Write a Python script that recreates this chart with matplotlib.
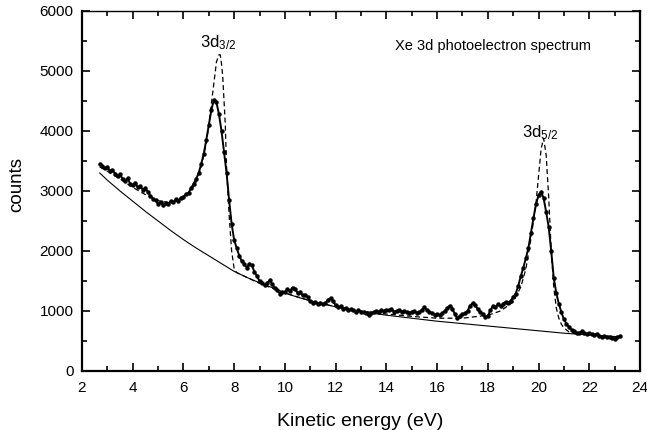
import numpy as np
import matplotlib
matplotlib.use("Agg")
import matplotlib.pyplot as plt
from matplotlib.ticker import MultipleLocator

plt.rcParams['font.family'] = ['Liberation Sans', 'DejaVu Sans']
plt.rcParams['mathtext.fontset'] = 'custom'
plt.rcParams['mathtext.rm'] = 'Liberation Sans'
plt.rcParams['mathtext.it'] = 'Liberation Sans'

# measured spectrum (kinetic energy in eV, counts)
energy = np.round(np.arange(2.7, 23.25, 0.1), 2)
counts = [
    3450, 3420, 3380, 3400, 3330, 3350, 3290, 3250, 3280, 3200,   # 2.7-3.6
    3170, 3210, 3120, 3100, 3140, 3060, 3080, 3020, 3050, 2980,   # 3.7-4.6
    2920, 2870, 2850, 2780, 2820, 2760, 2800, 2790, 2830, 2810,   # 4.7-5.6
    2860, 2840, 2890, 2900, 2950, 2970, 3050, 3120, 3200, 3300,   # 5.7-6.6
    3450, 3620, 3850, 4100, 4350, 4520, 4480, 4280, 4000, 3650,   # 6.7-7.6
    3300, 2850, 2450, 2180, 2050, 1920, 1830, 1780, 1720, 1790,   # 7.7-8.6
    1760, 1650, 1580, 1500, 1460, 1430, 1470, 1510, 1450, 1380,   # 8.7-9.6
    1350, 1290, 1310, 1320, 1360, 1340, 1390, 1370, 1300, 1310,   # 9.7-10.6
    1260, 1270, 1230, 1160, 1130, 1150, 1120, 1140, 1110, 1130,   # 10.7-11.6
    1190, 1210, 1160, 1100, 1060, 1080, 1030, 1050, 1020, 1030,   # 11.7-12.6
    1010, 990, 1010, 990, 980, 960, 930, 970, 980, 1000,          # 12.7-13.6
    990, 1010, 1000, 1020, 1010, 1030, 990, 1000, 1020, 990,      # 13.7-14.6
    1000, 980, 960, 990, 1000, 970, 980, 1020, 1060, 1010,        # 14.7-15.6
    990, 960, 940, 950, 930, 960, 1000, 1050, 1090, 1040,         # 15.7-16.6
    950, 880, 920, 950, 960, 1000, 1090, 1130, 1100, 1030,        # 16.7-17.6
    990, 950, 900, 920, 1010, 1080, 1060, 1110, 1080, 1120,       # 17.7-18.6
    1150, 1140, 1170, 1230, 1290, 1420, 1580, 1720, 1880, 2050,   # 18.7-19.6
    2300, 2550, 2780, 2930, 2990, 2880, 2650, 2400, 2000, 1550,   # 19.7-20.6
    1300, 1120, 980, 860, 790, 730, 690, 660, 640, 630,           # 20.7-21.6
    660, 640, 620, 630, 610, 600, 620, 590, 570, 580,             # 21.7-22.6
    560, 570, 550, 540, 560, 580,                                 # 22.7-23.2
]

# fitted curve (dashed)
fit_energy = [2.7, 3.0, 3.5, 4.0, 4.5, 5.0, 5.5, 6.0, 6.3, 6.5, 6.7, 6.9,
              7.0, 7.1, 7.2, 7.25, 7.3, 7.4, 7.45, 7.5, 7.55, 7.6, 7.65,
              7.7, 7.8, 7.9, 8.0, 8.1, 8.5, 9.0, 9.5, 10.0, 11.0, 12.0,
              13.0, 14.0, 15.0, 16.0, 17.0, 18.0, 18.5, 19.0, 19.3, 19.5,
              19.7, 19.9, 20.0, 20.1, 20.2, 20.3, 20.4, 20.5, 20.6, 20.7,
              20.8, 20.9, 21.0, 21.2, 21.5]
fit_counts = [3400, 3330, 3200, 3060, 2940, 2840, 2800, 2870, 3000, 3150,
              3400, 3800, 4100, 4450, 4800, 4970, 5150, 5270, 5270, 5120,
              4900, 4500, 4100, 3400, 2600, 2000, 1700, 1640, 1560, 1460,
              1380, 1300, 1170, 1070, 1000, 950, 910, 880, 880, 930, 1000,
              1150, 1400, 1700, 2200, 2800, 3250, 3700, 3880, 3600, 2900,
              2000, 1400, 1050, 880, 780, 720, 650, 620]

# background (thin solid)
bg_energy = [2.7, 3.0, 3.5, 4.0, 4.5, 5.0, 5.5, 6.0, 6.5, 7.0, 7.5, 8.0,
             8.5, 9.0, 9.5, 10.0, 10.5, 11.0, 11.5, 12.0, 13.0, 14.0,
             15.0, 16.0, 17.0, 18.0, 19.0, 20.0, 21.0, 22.0, 23.2]
bg_counts = [3300, 3180, 3000, 2830, 2660, 2500, 2340, 2190, 2050, 1920,
             1790, 1660, 1560, 1470, 1390, 1300, 1230, 1170, 1120, 1070,
             990, 930, 880, 830, 790, 750, 710, 670, 630, 600, 570]

x_ticks = [2, 4, 6, 8, 10, 12, 14, 16, 18, 20, 22, 24]
y_ticks = [0, 1000, 2000, 3000, 4000, 5000, 6000]

fig = plt.figure(figsize=(6.47, 4.30), dpi=100)
ax = fig.add_axes([82/647, 59/430, 558/647, 360/430])

ax.plot(bg_energy, bg_counts, color='black', lw=0.8)
ax.plot(fit_energy, fit_counts, color='black', lw=0.9, ls=(0, (4, 2.5)))
ax.plot(energy, counts, color='black', lw=1.4, marker='o', ms=2.2,
        mec='black', mfc='black')

ax.set_xlim(2, 24)
ax.set_ylim(0, 6000)
ax.set_xticks(x_ticks)
ax.set_yticks(y_ticks)
ax.xaxis.set_minor_locator(MultipleLocator(1))
ax.yaxis.set_minor_locator(MultipleLocator(500))
ax.tick_params(which='both', direction='in', top=True, right=True,
               labelsize=11, width=1.2)
ax.tick_params(which='major', length=6)
ax.tick_params(which='minor', length=3.5)
ax.tick_params(axis='x', which='major', pad=7)
ax.tick_params(axis='y', which='major', pad=6)
for side in ['left', 'bottom', 'right']:
    ax.spines[side].set_linewidth(1.6)
ax.spines['top'].set_linewidth(1.0)

ax.text(6.65, 5400, r'3d$_{\mathrm{3/2}}$', fontsize=12, ha='left',
        va='baseline')
ax.text(19.36, 3900, r'3d$_{\mathrm{5/2}}$', fontsize=12, ha='left',
        va='baseline')
ax.text(14.35, 5350, 'Xe 3d photoelectron spectrum', fontsize=10.5,
        ha='left', va='baseline')

fig.text(0.5565, 4.5/430, 'Kinetic energy (eV)', fontsize=14, ha='center',
         va='baseline')
fig.text(16.5/647, (430-185)/430, 'counts', fontsize=13.5, rotation=90,
         ha='center', va='center')

fig.savefig('out.png', dpi=100)
